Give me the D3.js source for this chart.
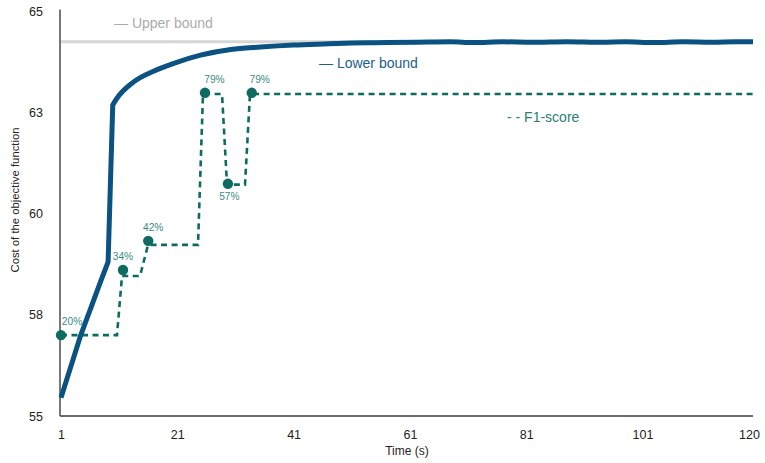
<!DOCTYPE html>
<html>
<head>
<meta charset="utf-8">
<script src="https://cdn.jsdelivr.net/npm/d3@7"></script>
<style>
  html, body { margin: 0; padding: 0; background: #fff; }
  svg { display: block; font-family: "Liberation Sans", Arial, Helvetica, sans-serif; }
</style>
</head>
<body>
<svg id="chart" width="765" height="463"></svg>
<script>
// ---------- data ----------
const xTicks = [1, 21, 41, 61, 81, 101, 120];
const yTicks = [55, 57.5, 60, 62.5, 65];
const yTickLabels = ["55", "58", "60", "63", "65"];

const upperTimes = [1, 120];
const upperValues = [64.25, 64.25];

const lowerTimes = [1, 4.4, 7.9, 9.1, 9.9, 10.4, 13.5, 17, 20.4, 25, 30.2, 35.3, 41, 47, 51, 55, 62, 68, 72, 77, 82, 88, 94, 98, 103, 108, 113, 117, 120];
const lowerValues = [55.45, 57.0, 58.36, 58.81, 62.69, 62.81, 63.26, 63.53, 63.72, 63.92, 64.06, 64.12, 64.17, 64.20, 64.22, 64.23, 64.24, 64.25, 64.235, 64.25, 64.24, 64.255, 64.24, 64.25, 64.235, 64.25, 64.24, 64.25, 64.25];

const f1Times = [1, 10.63, 11.49, 14.59, 15.96, 24.56, 25.42, 28.69, 29.55, 32.64, 33.5, 120];
const f1Values = [57.0, 57.0, 58.46, 58.46, 59.23, 59.23, 62.96, 62.96, 60.72, 60.72, 62.96, 62.96];

const markerTimes = [1, 11.66, 16.0, 25.76, 29.7, 33.8];
const markerValues = [57.0, 58.61, 59.33, 62.99, 60.74, 62.99];
const markerLabels = ["20%", "34%", "42%", "79%", "57%", "79%"];

// ---------- layout ----------
const svg = d3.select("#chart");
const x = d3.scaleLinear().domain([1, 120]).range([61, 753]);
const y = d3.scaleLinear().domain([55, 65]).range([416, 11.5]);

const C_LOWER = "#0b5283";
const C_F1 = "#0d6b60";
const C_F1_TEXT = "#3a8b7f";
const C_UPPER = "#d6d6d6";

// axes
const xAxis = d3.axisBottom(x).tickValues(xTicks).tickSize(0).tickPadding(14).tickFormat(d3.format("d"));
const gx = svg.append("g").attr("transform", "translate(0,416)").call(xAxis);
gx.select(".domain").attr("d", "M60,0H753").attr("stroke", "#3a3a3a").attr("stroke-width", 1.6);
gx.selectAll("text").attr("font-size", 12.5).attr("fill", "#222").attr("font-family", "Liberation Sans, Arial, sans-serif");
gx.selectAll(".tick").filter(d => d === 120).select("text").attr("dx", -4);

const yAxis = d3.axisLeft(y).tickValues(yTicks).tickSize(0).tickPadding(17)
  .tickFormat((d, i) => yTickLabels[i]);
const gy = svg.append("g").attr("transform", "translate(60,0)").call(yAxis);
gy.select(".domain").attr("d", "M0,9.5V416").attr("stroke", "#555").attr("stroke-width", 1.6);
gy.selectAll("text").attr("font-size", 12.5).attr("fill", "#222").attr("font-family", "Liberation Sans, Arial, sans-serif");

// axis titles
svg.append("text").attr("x", 407).attr("y", 455).attr("text-anchor", "middle")
  .attr("font-size", 12).attr("fill", "#222").text("Time (s)");
svg.append("text").attr("transform", "translate(19,200) rotate(-90)").attr("text-anchor", "middle")
  .attr("font-size", 11.3).attr("fill", "#222").text("Cost of the objective function");

const line = d3.line().x(d => x(d[0])).y(d => y(d[1]));
const smooth = d3.line().x(d => x(d[0])).y(d => y(d[1])).curve(d3.curveMonotoneX);

// upper bound
svg.append("path")
  .datum(upperTimes.map((t, i) => [t, upperValues[i]]))
  .attr("d", line).attr("fill", "none").attr("stroke", C_UPPER).attr("stroke-width", 3);

// F1 dashed step line
svg.append("path")
  .datum(f1Times.map((t, i) => [t, f1Values[i]]))
  .attr("d", line).attr("fill", "none").attr("stroke", C_F1).attr("stroke-width", 2.6)
  .attr("stroke-dasharray", "6,4.5");

// markers
const markers = markerTimes.map((t, i) => ({ t, v: markerValues[i], label: markerLabels[i], i }));
svg.append("g").selectAll("circle").data(markers).join("circle")
  .attr("cx", d => x(d.t)).attr("cy", d => y(d.v)).attr("r", 5.2).attr("fill", C_F1);

// label layout offsets (pixels) and placement (above/below)
const labelDx = [11, 0, 5, 9.5, 1.5, 8];
const labelBelow = [false, false, false, false, true, false];
svg.append("g").selectAll("text").data(markers).join("text")
  .attr("x", d => x(d.t) + labelDx[d.i])
  .attr("y", d => y(d.v) + (labelBelow[d.i] ? 16 : -10))
  .attr("text-anchor", "middle").attr("font-size", 10.2).attr("fill", C_F1_TEXT)
  .text(d => d.label);

// lower bound: linear up to the jump, smooth afterwards
const lowerPts = lowerTimes.map((t, i) => [t, lowerValues[i]]);
const kink = 4;
const dLower = line(lowerPts.slice(0, kink + 1)) + smooth(lowerPts.slice(kink)).replace(/^M/, "L");
svg.append("path")
  .attr("d", dLower).attr("fill", "none").attr("stroke", C_LOWER).attr("stroke-width", 5)
  .attr("stroke-linejoin", "round");

// legends (inline labels)
svg.append("text").attr("x", 114).attr("y", 28).attr("font-size", 14).attr("fill", "#ababab").text("— Upper bound");
svg.append("text").attr("x", 319).attr("y", 68).attr("font-size", 14).attr("fill", "#1e5d8c").text("— Lower bound");
svg.append("text").attr("x", 507).attr("y", 122).attr("font-size", 14).attr("fill", "#2c7f72").text("- - F1-score");
</script>
</body>
</html>
